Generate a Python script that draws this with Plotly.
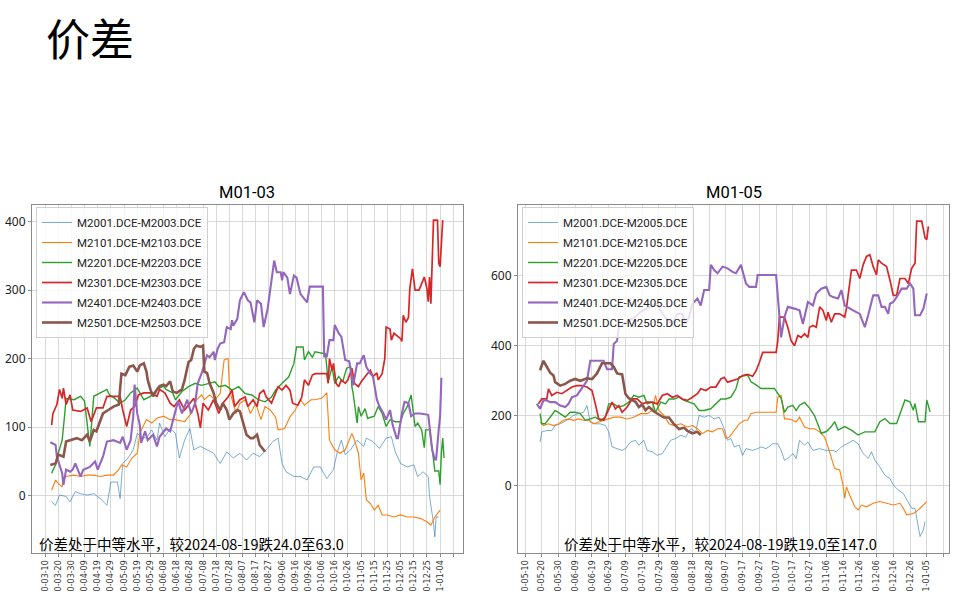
import plotly.graph_objects as go
import pandas as pd

# ---------------- data (day offset from season start, value) ----------------
# Left panel: M01-03, season starts 2020-03-10
L_START = "2020-03-10"
l_names = ["M2001.DCE-M2003.DCE", "M2101.DCE-M2103.DCE", "M2201.DCE-M2203.DCE",
           "M2301.DCE-M2303.DCE", "M2401.DCE-M2403.DCE", "M2501.DCE-M2503.DCE"]

l_m2001 = [(5,-9),(8,-14),(11,1),(16,-1),(19,-9),(23,6),(27,3),(32,1),(37,3),(42,-4),(47,-14),(50,20),
           (55,20),(57,-4),(59,47),(63,55),(67,67),(70,91),(73,86),(77,84),(81,96),(85,81),(87,106),(91,86),
           (95,98),(99,91),(102,55),(106,81),(110,98),(113,67),(118,72),(123,67),(128,62),(133,47),(138,64),
           (143,55),(148,62),(153,52),(158,62),(163,57),(168,67),(173,79),(177,84),(180,47),(183,35),(189,28),
           (194,28),(199,23),(204,42),(209,42),(214,25),(219,38),(222,64),(225,81),(228,60),(232,67),(237,81),
           (242,72),(244,84),(249,79),(254,69),(259,84),(263,86),(266,64),(270,47),(275,42),(280,45),(283,28),
           (287,35),(291,28),(292,-1),(295,-40),(296,-60),(297,-31),(299,-31)]
l_m2101 = [(5,8),(8,23),(10,18),(13,13),(14,25),(16,28),(22,30),(27,28),(32,30),(37,30),(42,28),(47,30),
           (52,30),(56,38),(58,45),(62,42),(66,55),(70,62),(72,91),(77,111),(81,106),(85,113),(90,116),(95,111),
           (99,111),(106,108),(111,120),(115,140),(119,147),(121,140),(125,147),(129,140),(133,149),(135,188),
           (136,198),(139,200),(140,159),(142,140),(145,120),(148,135),(152,140),(156,120),(160,135),(164,111),
           (167,130),(171,125),(175,115),(177,96),(182,98),(186,115),(190,125),(194,140),(197,132),(202,140),
           (205,140),(210,142),(214,150),(216,81),(220,67),(224,62),(228,67),(233,91),(235,81),(238,62),(240,23),
           (242,33),(244,-6),(247,-11),(250,-21),(253,-14),(256,-28),(260,-28),(265,-31),(270,-28),(275,-31),
           (280,-31),(285,-33),(290,-38),(293,-43),(296,-31),(300,-21)]
l_m2201 = [(5,33),(8,45),(10,62),(13,81),(15,120),(16,142),(22,140),(27,145),(30,138),(33,94),(34,72),
           (37,145),(42,150),(47,155),(49,147),(53,142),(57,135),(61,140),(65,150),(70,157),(75,140),(80,145),
           (85,155),(90,160),(92,155),(97,150),(99,140),(104,152),(109,159),(114,164),(119,161),(124,164),
           (129,166),(132,159),(137,161),(142,154),(147,159),(152,149),(157,147),(162,140),(167,137),(172,144),
           (175,154),(180,164),(185,173),(189,193),(191,217),(196,217),(197,198),(200,210),(203,202),(205,210),
           (213,207),(215,166),(218,188),(220,164),(223,174),(226,166),(229,186),(232,188),(233,159),(234,149),
           (237,106),(238,130),(240,116),(243,127),(245,113),(250,116),(253,130),(256,120),(259,101),(262,111),
           (266,108),(270,108),(272,120),(275,130),(278,147),(281,101),(283,106),(286,96),(288,70),(289,96),
           (292,96),(295,53),(296,36),(299,36),(300,16),(301,62),(302,84),(303,55)]
l_m2301 = [(5,103),(6,120),(9,133),(11,155),(13,142),(14,157),(16,133),(19,147),(21,125),(27,123),(32,128),
           (35,108),(39,128),(44,128),(47,145),(52,145),(57,145),(59,125),(62,101),(65,125),(68,130),(71,147),
           (75,150),(80,150),(85,145),(87,155),(91,150),(95,135),(98,130),(102,140),(106,125),(110,135),(113,142),
           (116,120),(118,99),(120,135),(124,125),(128,140),(132,120),(135,135),(139,144),(142,154),(144,130),
           (148,140),(152,144),(154,130),(158,140),(161,130),(163,149),(166,154),(168,144),(172,135),(175,149),
           (177,159),(180,154),(183,161),(186,154),(188,135),(192,132),(195,144),(197,169),(200,161),(203,176),
           (205,178),(214,178),(215,164),(216,200),(218,183),(219,193),(221,164),(223,159),(225,169),(228,164),
           (230,169),(233,186),(235,164),(238,159),(240,166),(244,176),(247,183),(249,174),(252,179),(253,169),
           (256,178),(258,200),(259,246),(262,243),(263,227),(265,237),(267,234),(270,229),(271,225),(272,263),
           (274,253),(276,260),(277,302),(279,331),(281,300),(284,300),(287,314),(288,319),(290,302),(291,283),
           (292,319),(293,280),(295,402),(298,402),(299,339),(300,334),(302,402)]
l_m2401 = [(4,78),(8,74),(9,57),(11,45),(13,33),(14,16),(16,38),(19,35),(21,38),(23,47),(27,28),(29,38),
           (34,42),(38,50),(40,38),(44,57),(47,79),(52,81),(57,77),(59,86),(62,67),(65,81),(67,116),(68,162),
           (70,120),(72,103),(73,77),(76,94),(78,81),(82,89),(85,72),(87,86),(92,98),(95,94),(97,108),(101,138),
           (104,120),(108,140),(111,120),(114,135),(116,164),(119,179),(123,205),(125,202),(128,210),(129,198),
           (131,214),(133,222),(136,224),(138,246),(141,243),(142,256),(143,248),(146,258),(148,285),(151,297),
           (154,285),(156,282),(159,253),(161,285),(164,280),(166,246),(169,272),(171,299),(174,343),(176,326),
           (179,326),(180,314),(181,326),(184,318),(186,294),(189,321),(191,318),(194,294),(196,289),(199,282),
           (201,305),(211,305),(212,203),(214,203),(216,227),(219,227),(220,249),(223,237),(225,232),(228,198),
           (231,196),(234,161),(237,193),(239,193),(242,205),(244,188),(247,178),(249,174),(252,140),(254,130),
           (257,120),(259,111),(262,125),(264,103),(267,84),(268,84),(271,120),(273,137),(276,135),(278,116),
           (281,120),(285,120),(291,118),(294,67),(296,53),(297,53),(299,97),(300,116),(301,172)]
l_m2501 = [(4,45),(8,47),(10,60),(14,57),(16,79),(20,81),(24,84),(28,81),(32,89),(34,79),(37,96),(39,94),
           (42,110),(44,120),(48,125),(52,130),(56,133),(58,178),(61,176),(64,188),(67,190),(70,181),(72,190),
           (75,193),(77,181),(78,169),(80,155),(82,145),(85,155),(87,160),(90,162),(92,160),(95,167),(97,152),
           (100,150),(104,155),(106,169),(109,195),(111,198),(113,214),(115,219),(118,217),(120,219),(121,181),
           (123,179),(125,164),(128,150),(130,135),(133,125),(135,135),(138,125),(140,111),(143,120),(146,125),
           (148,123),(151,101),(153,89),(156,84),(158,84),(161,89),(163,74),(166,67),(167,64)]
l_series = [l_m2001, l_m2101, l_m2201, l_m2301, l_m2401, l_m2501]
l_ticklabels = ["0-03-10","0-03-20","0-03-30","0-04-09","0-04-19","0-04-29","0-05-09","0-05-19",
                "0-05-29","0-06-08","0-06-18","0-06-28","0-07-08","0-07-18","0-07-28","0-08-07",
                "0-08-17","0-08-27","0-09-06","0-09-16","0-09-26","0-10-06","0-10-16","0-10-26",
                "0-11-05","0-11-15","0-11-25","0-12-05","0-12-15","0-12-25","1-01-04",""]
l_note = "价差处于中等水平，较2024-08-19跌24.0至63.0"

# Right panel: M01-05, season starts 2020-05-10
R_START = "2020-05-10"
r_names = ["M2001.DCE-M2005.DCE", "M2101.DCE-M2105.DCE", "M2201.DCE-M2205.DCE",
           "M2301.DCE-M2305.DCE", "M2401.DCE-M2405.DCE", "M2501.DCE-M2505.DCE"]
r_m2001 = [(9,125),(10,154),(13,158),(16,158),(18,172),(21,177),(25,187),(29,201),(32,206),(35,210),(37,229),
           (39,182),(42,177),(45,177),(48,172),(50,154),(52,111),(55,106),(58,101),(60,106),(63,125),(66,130),
           (68,116),(71,130),(73,101),(76,97),(79,87),(82,92),(84,106),(87,130),(90,135),(93,144),(96,139),
           (99,163),(102,154),(104,201),(107,196),(110,201),(113,191),(116,196),(119,163),(121,130),(123,135),
           (125,111),(128,116),(130,87),(132,106),(136,101),(139,106),(141,111),(144,106),(148,120),(151,120),
           (153,101),(155,73),(157,78),(160,92),(162,78),(164,130),(167,116),(169,125),(172,101),(176,106),
           (180,101),(184,101),(186,97),(189,111),(192,120),(196,130),(199,120),(202,92),(205,78),(207,97),
           (209,73),(212,54),(215,30),(218,21),(220,2),(223,-12),(226,-22),(229,-50),(231,-64),(233,-64),
           (235,-117),(236,-145),(238,-126),(239,-102)]
r_m2101 = [(9,182),(11,172),(14,177),(17,172),(20,177),(23,187),(26,191),(29,187),(32,191),(35,187),(38,187),
           (41,177),(44,182),(47,187),(50,191),(53,196),(57,196),(61,191),(65,196),(69,206),(73,206),(76,215),
           (78,258),(80,215),(83,201),(86,177),(89,172),(93,177),(97,168),(100,172),(103,163),(106,149),(109,158),
           (112,154),(115,163),(118,163),(120,135),(122,139),(125,158),(128,177),(131,187),(133,187),(135,206),
           (138,210),(142,210),(146,210),(150,210),(151,253),(153,258),(155,191),(157,191),(160,187),(162,182),
           (164,196),(167,168),(170,163),(173,163),(176,154),(179,139),(181,111),(183,78),(185,49),(188,45),
           (190,2),(191,-36),(192,-3),(194,-27),(197,-60),(199,-69),(201,-55),(204,-60),(208,-50),(212,-45),
           (216,-50),(220,-55),(224,-50),(226,-64),(228,-83),(232,-79),(235,-69),(238,-55),(240,-45)]
r_m2201 = [(9,206),(10,177),(12,177),(15,196),(18,215),(21,206),(24,196),(27,210),(30,210),(33,206),(36,187),
           (39,191),(42,196),(45,187),(48,196),(50,234),(53,234),(56,225),(59,229),(62,239),(65,258),(68,253),
           (71,258),(73,234),(76,239),(78,210),(81,239),(84,234),(86,248),(89,248),(92,253),(95,244),(98,239),
           (101,234),(104,215),(107,215),(111,220),(114,234),(117,248),(120,248),(123,253),(126,277),(128,311),
           (133,316),(135,297),(138,288),(141,278),(149,278),(151,264),(153,250),(155,210),(157,225),(160,230),
           (162,215),(164,230),(167,238),(170,222),(173,200),(175,175),(177,150),(180,155),(183,169),(185,183),
           (187,159),(191,169),(195,159),(199,145),(203,154),(209,154),(212,183),(215,192),(218,178),(222,178),
           (227,245),(230,240),(232,216),(233,235),(235,183),(239,183),(240,245),(242,211)]
r_m2301 = [(8,234),(10,248),(13,248),(14,277),(16,258),(19,267),(22,263),(25,272),(28,282),(31,286),(34,286),
           (37,282),(40,272),(42,234),(44,191),(47,187),(50,220),(52,239),(54,220),(56,229),(58,210),(61,225),
           (64,248),(67,248),(70,234),(73,239),(76,239),(79,234),(82,258),(85,263),(88,253),(91,258),(94,248),
           (97,244),(100,253),(103,263),(105,277),(108,272),(111,282),(114,282),(117,305),(119,310),(121,296),
           (124,300),(127,305),(130,315),(133,318),(136,313),(138,328),(140,352),(142,381),(150,381),(151,414),
           (152,482),(155,482),(157,453),(159,414),(161,400),(163,429),(165,424),(167,434),(169,424),(170,453),
           (172,458),(174,453),(176,511),(178,501),(180,472),(181,496),(183,467),(185,491),(188,491),(191,482),
           (192,506),(195,616),(198,616),(200,592),(202,631),(204,655),(206,660),(208,626),(210,602),(211,645),
           (213,636),(216,626),(218,588),(220,544),(222,544),(224,592),(227,592),(229,578),(231,621),(233,636),
           (234,756),(237,756),(239,708),(240,703),(241,741)]
r_m2401 = [(7,234),(9,220),(11,244),(13,244),(15,239),(18,239),(21,229),(24,225),(26,234),(28,253),(31,258),
           (33,272),(35,286),(37,300),(39,357),(47,357),(49,333),(52,333),(53,405),(55,414),(56,453),(60,465),
           (65,480),(70,500),(75,510),(79,520),(81,500),(84,480),(88,462),(91,491),(94,491),(96,462),(98,482),
           (100,520),(103,535),(105,515),(107,559),(110,559),(111,631),(113,616),(115,607),(118,626),(121,621),
           (124,611),(126,607),(129,631),(132,578),(134,568),(138,568),(139,602),(150,602),(152,491),(153,424),
           (155,482),(157,511),(161,506),(164,501),(166,462),(169,525),(172,515),(174,549),(177,563),(180,568),
           (182,544),(184,539),(187,535),(189,559),(191,515),(194,506),(196,501),(200,491),(203,453),(205,487),
           (208,544),(211,544),(213,511),(215,511),(217,491),(218,520),(220,525),(222,539),(225,563),(228,563),
           (230,578),(232,563),(233,487),(236,487),(238,506),(240,549)]
r_m2501 = [(9,330),(11,357),(13,340),(15,323),(17,315),(18,296),(21,286),(24,291),(27,300),(30,305),(33,300),
           (37,307),(40,305),(43,321),(46,350),(51,350),(53,340),(55,321),(58,318),(60,262),(62,250),(64,245),
           (66,240),(68,225),(70,232),(72,216),(74,225),(77,212),(80,203),(83,195),(86,195),(89,176),(92,162),
           (95,166),(97,157),(100,150),(103,154),(105,145)]
r_series = [r_m2001, r_m2101, r_m2201, r_m2301, r_m2401, r_m2501]
r_ticklabels = ["0-05-10","0-05-20","0-05-30","0-06-09","0-06-19","0-06-29","0-07-09","0-07-19",
                "0-07-29","0-08-08","0-08-18","0-08-28","0-09-07","0-09-17","0-09-27","0-10-07",
                "0-10-17","0-10-27","0-11-06","0-11-16","0-11-26","0-12-06","0-12-16","0-12-26","1-01-05",""]
r_note = "价差处于中等水平，较2024-08-19跌19.0至147.0"

# ---------------- styling ----------------
W, H = 963, 608
COLORS = ["rgba(31,119,180,0.6)", "#ff7f0e", "#2ca02c", "#d62728", "#9467bd", "#8c564b"]
WIDTHS = [1.0, 1.1, 1.4, 1.7, 2.1, 2.6]
CJK = "Noto Sans CJK SC"
LEGF = "Roboto, Noto Sans"

def px_x(p):
    return p / W

def px_y(p):
    return 1 - p / H

def dates(start, pts):
    s = pd.Timestamp(start)
    return [s + pd.Timedelta(days=d) for d, _ in pts]

fig = go.Figure()

panels = [
    (L_START, l_names, l_series, "x", "y", "legend", "L"),
    (R_START, r_names, r_series, "x2", "y2", "legend2", "R"),
]
for start, names, series, xa, ya, leg, tag in panels:
    for i, (name, pts) in enumerate(zip(names, series)):
        fig.add_trace(go.Scatter(
            x=dates(start, pts), y=[v for _, v in pts], mode="lines", name=name,
            line=dict(color=COLORS[i], width=WIDTHS[i]), xaxis=xa, yaxis=ya, legend=leg,
            legendgroup=f"{tag}{i}",
        ))

grid = "#d9d9d9"
axis_common = dict(showgrid=True, gridcolor=grid, gridwidth=1, showline=True, linecolor="#8a8a8a",
                   linewidth=1, mirror=True, ticks="outside", ticklen=3, tickcolor="#8a8a8a",
                   zeroline=False)

l_ticks = pd.date_range(L_START, periods=len(l_ticklabels), freq="10D")
r_ticks = pd.date_range(R_START, periods=len(r_ticklabels), freq="10D")
l0 = pd.Timestamp(L_START)
r0 = pd.Timestamp(R_START)

legend_common = dict(xanchor="left", yanchor="top", itemwidth=30, tracegroupgap=1,
                     bgcolor="rgba(255,255,255,0.8)", bordercolor="#d0d0d0", borderwidth=1,
                     font=dict(size=11.5, color="#222", family=LEGF))

fig.update_layout(
    width=W, height=H, margin=dict(l=0, r=0, t=0, b=0),
    paper_bgcolor="white", plot_bgcolor="white", showlegend=True,
    xaxis=dict(domain=[px_x(32), px_x(463)], anchor="y", type="date",
               range=[l0 - pd.Timedelta(days=9.9), l0 + pd.Timedelta(days=317.4)],
               tickvals=list(l_ticks), ticktext=l_ticklabels, tickangle=-90,
               tickfont=dict(size=8, color="#333", family="DejaVu Sans"), **axis_common),
    yaxis=dict(domain=[px_y(553), px_y(205)], anchor="x", range=[-83.5, 424],
               tickvals=[0, 100, 200, 300, 400],
               tickfont=dict(size=12, color="#222", family="Noto Sans"), **axis_common),
    xaxis2=dict(domain=[px_x(518), px_x(949)], anchor="y2", type="date",
                range=[r0 - pd.Timedelta(days=4.2), r0 + pd.Timedelta(days=253.3)],
                tickvals=list(r_ticks), ticktext=r_ticklabels, tickangle=-90,
                tickfont=dict(size=8, color="#333", family="DejaVu Sans"), **axis_common),
    yaxis2=dict(domain=[px_y(553), px_y(205)], anchor="x2", range=[-192, 802],
                tickvals=[0, 200, 400, 600],
                tickfont=dict(size=12, color="#222", family="Noto Sans"), **axis_common),
    legend=dict(x=px_x(36), y=px_y(207), **legend_common),
    legend2=dict(x=px_x(522), y=px_y(207), **legend_common),
)

annos = [
    dict(text="价差", x=px_x(44), y=px_y(37), xanchor="left", yanchor="middle",
         font=dict(size=44, color="black", family=CJK)),
    dict(text="M01-03", x=px_x(247.5), y=px_y(193), xanchor="center", yanchor="middle",
         font=dict(size=16.5, color="black", family="Roboto")),
    dict(text="M01-05", x=px_x(733.5), y=px_y(193), xanchor="center", yanchor="middle",
         font=dict(size=16.5, color="black", family="Roboto")),
    dict(text=l_note, x=px_x(37), y=px_y(556), xanchor="left", yanchor="bottom",
         font=dict(size=14.5, color="black", family=CJK)),
    dict(text=r_note, x=px_x(562), y=px_y(556), xanchor="left", yanchor="bottom",
         font=dict(size=14.5, color="black", family=CJK)),
]
for a in annos:
    fig.add_annotation(xref="paper", yref="paper", showarrow=False, **a)

fig.write_html("out.html", config={"displayModeBar": False},
               post_script="document.body.style.margin='0';")
